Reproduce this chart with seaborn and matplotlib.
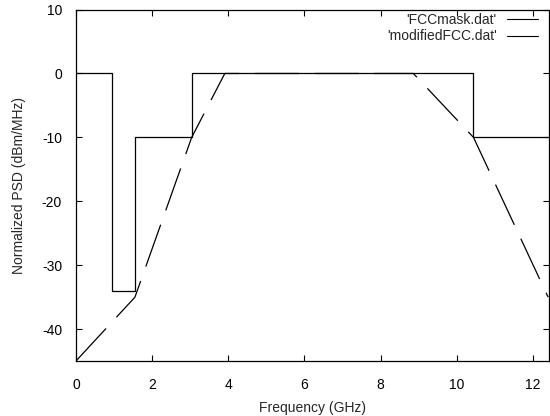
import numpy as np
import pandas as pd
import matplotlib
matplotlib.use("Agg")
import matplotlib.pyplot as plt
import seaborn as sns

# FCC indoor mask, normalized to the in-band level
mask_freq = [0, 0.95, 0.95, 1.55, 1.55, 3.04, 3.04, 10.44, 10.44, 12.4]
mask_psd = [0, 0, -34, -34, -10, -10, 0, 0, -10, -10]

# modified mask (trapezoid-like shape)
mod_freq = [0, 1.55, 3.04, 3.91, 8.86, 10.44, 12.4]
mod_psd = [-45, -35, -10, 0, 0, -10, -35]

x_ticks = [0, 2, 4, 6, 8, 10, 12]
y_ticks = [-40, -30, -20, -10, 0, 10]

sns.set_style("ticks")
plt.rcParams['font.family'] = ['Liberation Sans', 'DejaVu Sans']
plt.rcParams['font.size'] = 10
plt.rcParams['lines.scale_dashes'] = False
plt.rcParams['axes.unicode_minus'] = False

fig = plt.figure(figsize=(5.5, 4.16), dpi=100)
ax = fig.add_axes([0.138, 0.132, 0.86, 0.845])

mask = pd.DataFrame({'f': mask_freq, 'psd': mask_psd})
mod = pd.DataFrame({'f': mod_freq, 'psd': mod_psd})

sns.lineplot(data=mask, x='f', y='psd', sort=False, estimator=None,
             color='black', lw=0.9, label="'FCCmask.dat'", ax=ax)
sns.lineplot(data=mod, x='f', y='psd', sort=False, estimator=None,
             color='black', lw=0.9, label="'modifiedFCC.dat'", ax=ax)
ax.lines[1].set_linestyle((0, (32, 11)))

ax.set_xlim(0, 12.42)
ax.set_ylim(-45, 10)
ax.set_xticks(x_ticks)
ax.set_yticks(y_ticks)
ax.set_xlabel('Frequency (GHz)', labelpad=7)
ax.set_ylabel('Normalized PSD (dBm/MHz)', labelpad=11)

for s in ax.spines.values():
    s.set_visible(True)
    s.set_linewidth(0.9)
    s.set_color('black')
ax.tick_params(direction='in', length=4, width=0.8, top=True, right=True,
               pad=10, labelsize=10, colors='black')
ax.tick_params(axis='x', pad=12)

leg = ax.legend(loc='upper right', bbox_to_anchor=(0.979, 0.968),
                bbox_transform=fig.transFigure, frameon=False,
                markerfirst=False, handlelength=2.3, handletextpad=0.7,
                labelspacing=0.15, borderpad=0.0, borderaxespad=0.0,
                fontsize=10)
for ln in leg.get_lines():
    ln.set_linestyle('-')
    ln.set_linewidth(0.8)

fig.savefig('out.png', dpi=100)
